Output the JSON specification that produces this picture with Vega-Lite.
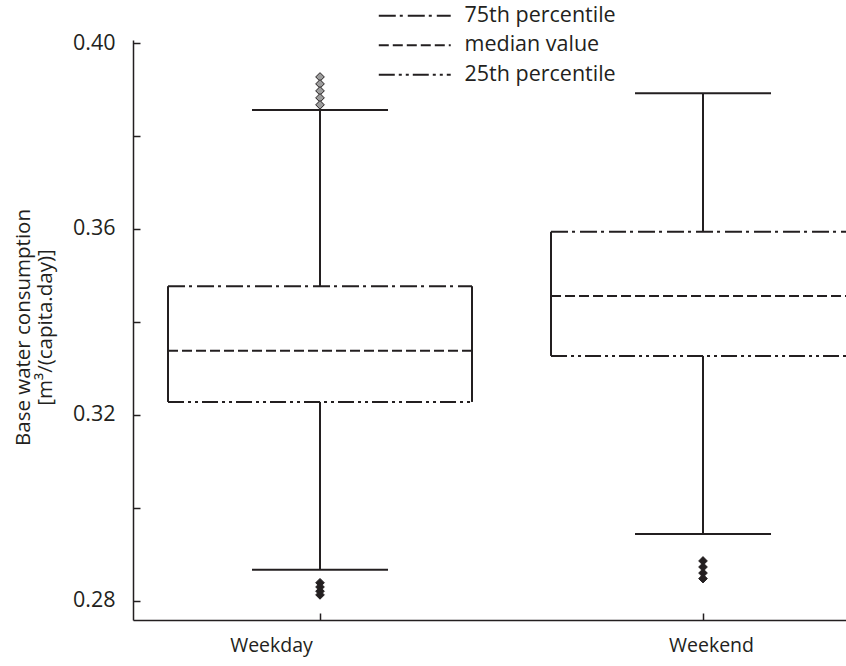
{
  "$schema": "https://vega.github.io/schema/vega-lite/v6.json",
  "width": 713,
  "height": 580,
  "autosize": {"type": "none"},
  "padding": {"left": 133, "top": 40, "right": 0, "bottom": 46},
  "background": "white",
  "config": {
    "view": {"stroke": null},
    "font": "Open Sans",
    "axis": {"domainColor": "#231f20", "domainWidth": 1.5, "tickColor": "#231f20", "tickWidth": 1.5, "labelColor": "#231f20", "titleColor": "#231f20", "grid": false}
  },
  "datasets": {
    "stats": [
      {"day": "Weekday", "stat": "75th percentile", "value": 0.3477},
      {"day": "Weekday", "stat": "median value", "value": 0.3338},
      {"day": "Weekday", "stat": "25th percentile", "value": 0.3228},
      {"day": "Weekend", "stat": "75th percentile", "value": 0.3594},
      {"day": "Weekend", "stat": "median value", "value": 0.3456},
      {"day": "Weekend", "stat": "25th percentile", "value": 0.3327}
    ],
    "boxes": [
      {"day": "Weekday", "q1": 0.3228, "q3": 0.3477, "lo": 0.2867, "hi": 0.3856},
      {"day": "Weekend", "q1": 0.3327, "q3": 0.3594, "lo": 0.2944, "hi": 0.3892}
    ],
    "outliers": [
      {"day": "Weekday", "side": "high", "value": 0.3927},
      {"day": "Weekday", "side": "high", "value": 0.3912},
      {"day": "Weekday", "side": "high", "value": 0.3897},
      {"day": "Weekday", "side": "high", "value": 0.3882},
      {"day": "Weekday", "side": "high", "value": 0.3867},
      {"day": "Weekday", "side": "low", "value": 0.2839},
      {"day": "Weekday", "side": "low", "value": 0.2830},
      {"day": "Weekday", "side": "low", "value": 0.2821},
      {"day": "Weekday", "side": "low", "value": 0.2813},
      {"day": "Weekend", "side": "low", "value": 0.2886},
      {"day": "Weekend", "side": "low", "value": 0.2873},
      {"day": "Weekend", "side": "low", "value": 0.2860},
      {"day": "Weekend", "side": "low", "value": 0.2848}
    ]
  },
  "encoding": {
    "x": {
      "field": "day",
      "type": "nominal",
      "scale": {"type": "point", "domain": ["Weekday", "Weekend"], "padding": 0.4308, "align": 0.5667},
      "axis": {
        "title": null,
        "labelAngle": 0,
        "labelFontSize": 19.5,
        "tickSize": -7,
        "labelPadding": 23,
        "labelOffset": {"condition": {"test": "datum.value === 'Weekday'", "value": -49}, "value": 8}
      }
    }
  },
  "layer": [
    {
      "data": {"name": "stats"},
      "mark": {"type": "rule", "xOffset": -152, "x2Offset": 152, "strokeWidth": 2, "color": "#231f20"},
      "encoding": {
        "x2": {"field": "day"},
        "y": {
          "field": "value",
          "type": "quantitative",
          "scale": {"domain": [0.2759, 0.40065], "nice": false, "zero": false},
          "axis": {
            "title": ["Base water consumption", "[m³/(capita.day)]"],
            "titleFontSize": 20.5,
            "titleFontWeight": "normal",
            "titleLineHeight": 22,
            "titleX": -110,
            "titleY": 287,
            "titleBaseline": "middle",
            "values": [0.28, 0.30, 0.32, 0.34, 0.36, 0.38, 0.40],
            "format": ".2f",
            "labelExpr": "indexof(['0.28','0.32','0.36','0.40'], datum.label) >= 0 ? datum.label : ''",
            "labelFontSize": 21.5,
            "tickSize": -7,
            "labelPadding": 25
          }
        },
        "strokeDash": {
          "field": "stat",
          "type": "nominal",
          "scale": {"domain": ["75th percentile", "median value", "25th percentile"], "range": [[17, 4, 3, 5], [10, 4], [16, 4, 3, 4, 3, 4]]},
          "legend": {
            "title": null,
            "orient": "none",
            "legendX": 271,
            "legendY": -35,
            "symbolType": "M-5,0H5",
            "symbolSize": 207,
            "symbolStrokeWidth": 2,
            "symbolStrokeColor": "#231f20",
            "labelFontSize": 21.5,
            "labelColor": "#231f20",
            "labelOffset": 39,
            "rowPadding": 6.5,
            "padding": 0
          }
        }
      }
    },
    {
      "data": {"name": "boxes"},
      "mark": {"type": "rule", "xOffset": -152, "strokeWidth": 2, "color": "#231f20"},
      "encoding": {"y": {"field": "q1", "type": "quantitative"}, "y2": {"field": "q3"}}
    },
    {
      "data": {"name": "boxes"},
      "mark": {"type": "rule", "xOffset": 152, "strokeWidth": 2, "color": "#231f20"},
      "encoding": {"y": {"field": "q1", "type": "quantitative"}, "y2": {"field": "q3"}}
    },
    {
      "data": {"name": "boxes"},
      "mark": {"type": "rule", "strokeWidth": 2, "color": "#231f20"},
      "encoding": {"y": {"field": "q3", "type": "quantitative"}, "y2": {"field": "hi"}}
    },
    {
      "data": {"name": "boxes"},
      "mark": {"type": "rule", "strokeWidth": 2, "color": "#231f20"},
      "encoding": {"y": {"field": "lo", "type": "quantitative"}, "y2": {"field": "q1"}}
    },
    {
      "data": {"name": "boxes"},
      "mark": {"type": "rule", "xOffset": -68, "x2Offset": 68, "strokeWidth": 2, "color": "#231f20"},
      "encoding": {"x2": {"field": "day"}, "y": {"field": "hi", "type": "quantitative"}}
    },
    {
      "data": {"name": "boxes"},
      "mark": {"type": "rule", "xOffset": -68, "x2Offset": 68, "strokeWidth": 2, "color": "#231f20"},
      "encoding": {"x2": {"field": "day"}, "y": {"field": "lo", "type": "quantitative"}}
    },
    {
      "data": {"name": "outliers"},
      "mark": {"type": "point", "shape": "diamond", "filled": true, "size": 75, "stroke": "#231f20", "strokeWidth": 1, "opacity": 1},
      "encoding": {
        "y": {"field": "value", "type": "quantitative"},
        "color": {"field": "side", "type": "nominal", "scale": {"domain": ["high", "low"], "range": ["#9d9d9d", "#231f20"]}, "legend": null}
      }
    }
  ]
}
